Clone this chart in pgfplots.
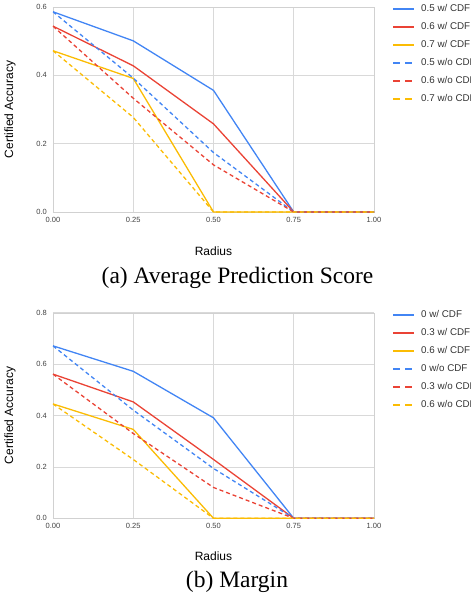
\documentclass[border=0pt]{standalone}
\usepackage{fontspec}
\setmainfont{Liberation Serif}
\setsansfont{Liberation Sans}
\usepackage{pgfplots}
\pgfplotsset{compat=1.18}
\definecolor{gblue}{HTML}{4285F4}
\definecolor{gred}{HTML}{EA4335}
\definecolor{gyellow}{HTML}{FBBC04}

\pgfplotsset{
  gchart/.style={
    scale only axis, width=321pt,
    xmin=0, xmax=1, ymin=0,
    xtick={0,0.25,0.5,0.75,1},
    axis line style={black!18},
    grid=major, major grid style={black!15, line width=0.6pt},
    major tick length=0pt,
    /pgf/number format/assume math mode=true,
    /pgf/number format/fixed, /pgf/number format/fixed zerofill,
    xticklabel style={font=\sffamily\fontsize{7.5}{9}\selectfont, text=black!75, inner sep=0pt, anchor=north, yshift=-5pt,
      /pgf/number format/precision=2},
    yticklabel style={font=\sffamily\fontsize{7.5}{9}\selectfont, text=black!75, inner sep=0pt, anchor=east, xshift=-6pt,
      /pgf/number format/precision=1},
    every axis y label/.style={at={(axis description cs:-0.134,0.5)}, rotate=90, anchor=center, font=\sffamily\fontsize{12}{14}\selectfont},
    xlabel={Radius}, ylabel={Certified Accuracy},
    legend cell align=left,
    legend style={at={(1,1)}, anchor=north west, xshift=18pt, yshift=2.5pt, draw=none, fill=none, inner sep=0pt,
      font=\sffamily\fontsize{9.8}{11}\selectfont, text=black!80,
      nodes={inner sep=0pt, text height=7pt, text depth=2pt},
      row sep=9pt, column sep=5.5pt},
    legend image code/.code={\draw[#1, line width=2.5pt] (0pt,0pt) -- (21pt,0pt);},
    every axis plot/.append style={line width=1.3pt, line join=round},
  },
  wo/.style={dash pattern=on 4pt off 3pt, legend image post style={dash pattern=on 7pt off 5pt}},
}

\begin{document}
\begin{tikzpicture}
\useasboundingbox (0pt,0pt) rectangle (471pt,-598pt);

\begin{axis}[gchart, at={(53pt,-212pt)}, anchor=south west, height=205pt,
  ymax=0.6, ytick={0,0.2,0.4,0.6},
  every axis x label/.style={at={(axis description cs:0.5,-0.189)}, anchor=center, font=\sffamily\fontsize{12}{14}\selectfont}]
\addplot[gblue] coordinates {(0,0.586) (0.25,0.501) (0.5,0.356) (0.75,0) (1,0)};
\addplot[gred] coordinates {(0,0.544) (0.25,0.428) (0.5,0.258) (0.75,0) (1,0)};
\addplot[gyellow] coordinates {(0,0.472) (0.25,0.391) (0.5,0) (0.75,0) (1,0)};
\addplot[gblue, wo] coordinates {(0,0.586) (0.25,0.392) (0.5,0.174) (0.75,0) (1,0)};
\addplot[gred, wo] coordinates {(0,0.544) (0.25,0.333) (0.5,0.138) (0.75,0) (1,0)};
\addplot[gyellow, wo] coordinates {(0,0.472) (0.25,0.277) (0.5,0) (0.75,0) (1,0)};
\legend{0.5 w/ CDF, 0.6 w/ CDF, 0.7 w/ CDF, 0.5 w/o CDF, 0.6 w/o CDF, 0.7 w/o CDF}
\end{axis}

\begin{axis}[gchart, at={(53pt,-518.3pt)}, anchor=south west, height=205.6pt,
  ymax=0.8, ytick={0,0.2,0.4,0.6,0.8},
  every axis x label/.style={at={(axis description cs:0.5,-0.185)}, anchor=center, font=\sffamily\fontsize{12}{14}\selectfont}]
\addplot[gblue] coordinates {(0,0.671) (0.25,0.572) (0.5,0.391) (0.75,0) (1,0)};
\addplot[gred] coordinates {(0,0.561) (0.25,0.453) (0.5,0.229) (0.75,0) (1,0)};
\addplot[gyellow] coordinates {(0,0.445) (0.25,0.346) (0.5,0) (0.75,0) (1,0)};
\addplot[gblue, wo] coordinates {(0,0.671) (0.25,0.421) (0.5,0.194) (0.75,0) (1,0)};
\addplot[gred, wo] coordinates {(0,0.561) (0.25,0.330) (0.5,0.120) (0.75,0) (1,0)};
\addplot[gyellow, wo] coordinates {(0,0.445) (0.25,0.229) (0.5,0) (0.75,0) (1,0)};
\legend{0 w/ CDF, 0.3 w/ CDF, 0.6 w/ CDF, 0 w/o CDF, 0.3 w/o CDF, 0.6 w/o CDF}
\end{axis}

\node[font=\fontsize{23.5}{28}\selectfont, inner sep=0pt] at (237.5pt,-277.5pt) {(a) Average Prediction Score};
\node[font=\fontsize{23.5}{28}\selectfont, inner sep=0pt] at (237pt,-581.7pt) {(b) Margin};
\end{tikzpicture}
\end{document}
